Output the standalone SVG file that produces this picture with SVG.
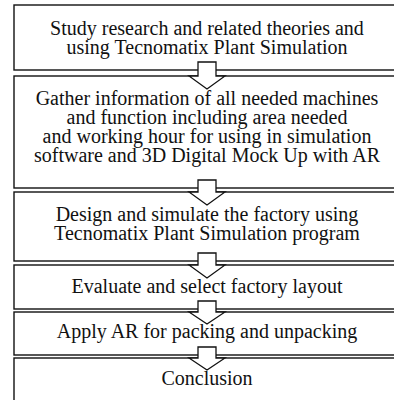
<svg xmlns="http://www.w3.org/2000/svg" width="394" height="400" viewBox="0 0 394 400">
<style>
.box{fill:#fff;stroke:#111;stroke-width:1.4}
.arr{fill:#fff;stroke:#111;stroke-width:1.3;stroke-linejoin:miter}
.t{font-family:'Liberation Serif','Times New Roman',Times,'DejaVu Serif',serif;font-size:20px;fill:#111;text-anchor:middle}
</style>
<rect width="394" height="400" fill="#fff"/>
<g id="n1"><rect class="box" x="14" y="5" width="386" height="65"/>
<text class="t" font-family="Liberation Serif, serif" x="207" y="35">Study research and related theories and</text>
<text class="t" font-family="Liberation Serif, serif" x="207" y="54">using Tecnomatix Plant Simulation</text></g>
<g id="n2"><rect class="box" x="14" y="76" width="386" height="112"/>
<text class="t" font-family="Liberation Serif, serif" x="207" y="105">Gather information of all needed machines</text>
<text class="t" font-family="Liberation Serif, serif" x="207" y="124">and function including area needed</text>
<text class="t" font-family="Liberation Serif, serif" x="207" y="143">and working hour for using in simulation</text>
<text class="t" font-family="Liberation Serif, serif" x="207" y="162">software and 3D Digital Mock Up with AR</text></g>
<g id="n3"><rect class="box" x="14" y="192" width="386" height="69"/>
<text class="t" font-family="Liberation Serif, serif" x="207" y="221">Design and simulate the factory using</text>
<text class="t" font-family="Liberation Serif, serif" x="207" y="240">Tecnomatix Plant Simulation program</text></g>
<g id="n4"><rect class="box" x="14" y="265" width="386" height="44"/>
<text class="t" font-family="Liberation Serif, serif" x="207" y="293">Evaluate and select factory layout</text></g>
<g id="n5"><rect class="box" x="14" y="312" width="386" height="43"/>
<text class="t" font-family="Liberation Serif, serif" x="207" y="338">Apply AR for packing and unpacking</text></g>
<g id="n6"><rect class="box" x="14" y="358" width="386" height="60"/>
<text class="t" font-family="Liberation Serif, serif" x="207" y="385">Conclusion</text></g>
<g id="connectors">
<path class="arr" d="M198,62 H216 V76 H225 L207,89 L189,76 H198 Z"/>
<path class="arr" d="M198,180 H216 V192 H225 L207,205 L189,192 H198 Z"/>
<path class="arr" d="M198,253 H216 V265 H225 L207,278 L189,265 H198 Z"/>
<path class="arr" d="M198,301 H216 V312 H225 L207,324 L189,312 H198 Z"/>
<path class="arr" d="M198,347 H216 V358 H225 L207,370 L189,358 H198 Z"/>
</g>
</svg>
